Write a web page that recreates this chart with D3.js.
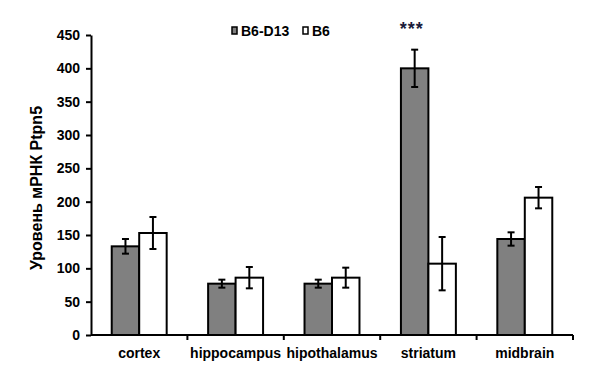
<!DOCTYPE html>
<html>
<head>
<meta charset="utf-8">
<script src="https://cdn.jsdelivr.net/npm/d3@7"></script>
<style>
  body { margin: 0; background: #fff; }
  svg { font-family: "Liberation Sans", Arial, sans-serif; font-weight: bold; }
</style>
</head>
<body>
<svg id="chart" width="609" height="371"></svg>
<script>
const categories = ["cortex", "hippocampus", "hipothalamus", "striatum", "midbrain"];
const seriesNames = ["B6-D13", "B6"];
const seriesColors = ["#808080", "#ffffff"];
const valuesB6D13 = [133, 77, 77, 400, 144];
const errorsB6D13 = [11, 6, 6, 28, 10];
const valuesB6 = [153, 86, 86, 107, 206];
const errorsB6 = [24, 16, 15, 40, 16];
const yTicks = [0, 50, 100, 150, 200, 250, 300, 350, 400, 450];
const yTitle = "Уровень мРНК Ptpn5";
const marks = [{category: "striatum", series: "B6-D13", text: "***"}];

const svg = d3.select("#chart");
const margin = {left: 91, right: 36, top: 35, bottom: 36};
const width = 609, height = 371;

const x0 = d3.scaleBand().domain(categories).range([margin.left, width - margin.right]).padding(0);
const groupW = x0.bandwidth() * 0.57;
const x1 = d3.scaleBand().domain(seriesNames).range([0, groupW]).padding(0);
const y = d3.scaleLinear().domain([0, 450]).range([height - margin.bottom, margin.top]);

const rows = [];
categories.forEach((c, i) => {
    rows.push({category: c, series: "B6-D13", value: valuesB6D13[i], err: errorsB6D13[i]});
    rows.push({category: c, series: "B6", value: valuesB6[i], err: errorsB6[i]});
});
const barX = d => x0(d.category) + (x0.bandwidth() - groupW) / 2 + x1(d.series);

// bars
svg.append("g").selectAll("rect")
    .data(rows)
    .join("rect")
    .attr("x", barX)
    .attr("y", d => y(d.value))
    .attr("width", x1.bandwidth())
    .attr("height", d => y(0) - y(d.value))
    .attr("fill", d => seriesColors[seriesNames.indexOf(d.series)])
    .attr("stroke", "black")
    .attr("stroke-width", 2);

// error bars
const eb = svg.append("g").attr("stroke", "black").attr("stroke-width", 2);
rows.forEach(d => {
    const cx = barX(d) + x1.bandwidth() / 2;
    eb.append("line").attr("x1", cx).attr("x2", cx).attr("y1", y(d.value + d.err)).attr("y2", y(d.value - d.err));
    eb.append("line").attr("x1", cx - 3.5).attr("x2", cx + 3.5).attr("y1", y(d.value + d.err)).attr("y2", y(d.value + d.err));
    eb.append("line").attr("x1", cx - 3.5).attr("x2", cx + 3.5).attr("y1", y(d.value - d.err)).attr("y2", y(d.value - d.err));
});

// y axis
const yAxis = svg.append("g")
    .attr("transform", `translate(${margin.left},0)`)
    .call(d3.axisLeft(y).tickValues(yTicks).tickSizeOuter(0).tickSizeInner(5).tickPadding(6));
yAxis.select(".domain").attr("stroke-width", 2);
yAxis.selectAll(".tick line").attr("stroke-width", 2);
yAxis.selectAll("text").attr("font-size", 14).attr("font-family", null).attr("fill", "black");

// x axis
const xg = svg.append("g").attr("transform", `translate(0,${y(0)})`);
xg.append("line").attr("x1", margin.left).attr("x2", width - margin.right)
    .attr("stroke", "black").attr("stroke-width", 2);
const bounds = categories.map(c => x0(c) + x0.bandwidth());
xg.selectAll(".xt").data(bounds).join("line")
    .attr("x1", d => d).attr("x2", d => d).attr("y1", 0).attr("y2", 5)
    .attr("stroke", "black").attr("stroke-width", 2);
xg.selectAll(".xl").data(categories).join("text")
    .attr("x", d => x0(d) + x0.bandwidth() / 2)
    .attr("y", 23)
    .attr("text-anchor", "middle")
    .attr("font-size", 14)
    .text(d => d);

// y title
svg.append("text")
    .attr("transform", "translate(42,188) rotate(-90)")
    .attr("text-anchor", "middle")
    .attr("font-size", 16)
    .text(yTitle);

// significance marks
marks.forEach(m => {
    const d = rows.find(r => r.category === m.category && r.series === m.series);
    svg.append("text")
        .attr("x", barX(d) + x1.bandwidth() / 2 - 3)
        .attr("y", 34.5)
        .attr("text-anchor", "middle")
        .attr("font-size", 18)
        .attr("letter-spacing", 1)
        .attr("fill", "#1a1a3a")
        .text(m.text);
});

// legend
const legend = svg.append("g").attr("transform", "translate(231,26)");
const lx = [0, 71];
seriesNames.forEach((s, i) => {
    legend.append("rect").attr("x", lx[i] + 1).attr("y", 1).attr("width", 5).attr("height", 7)
        .attr("fill", seriesColors[i]).attr("stroke", "black").attr("stroke-width", 1.5);
    legend.append("text").attr("x", lx[i] + 10).attr("y", 10).attr("font-size", 14).text(s);
});
</script>
</body>
</html>
